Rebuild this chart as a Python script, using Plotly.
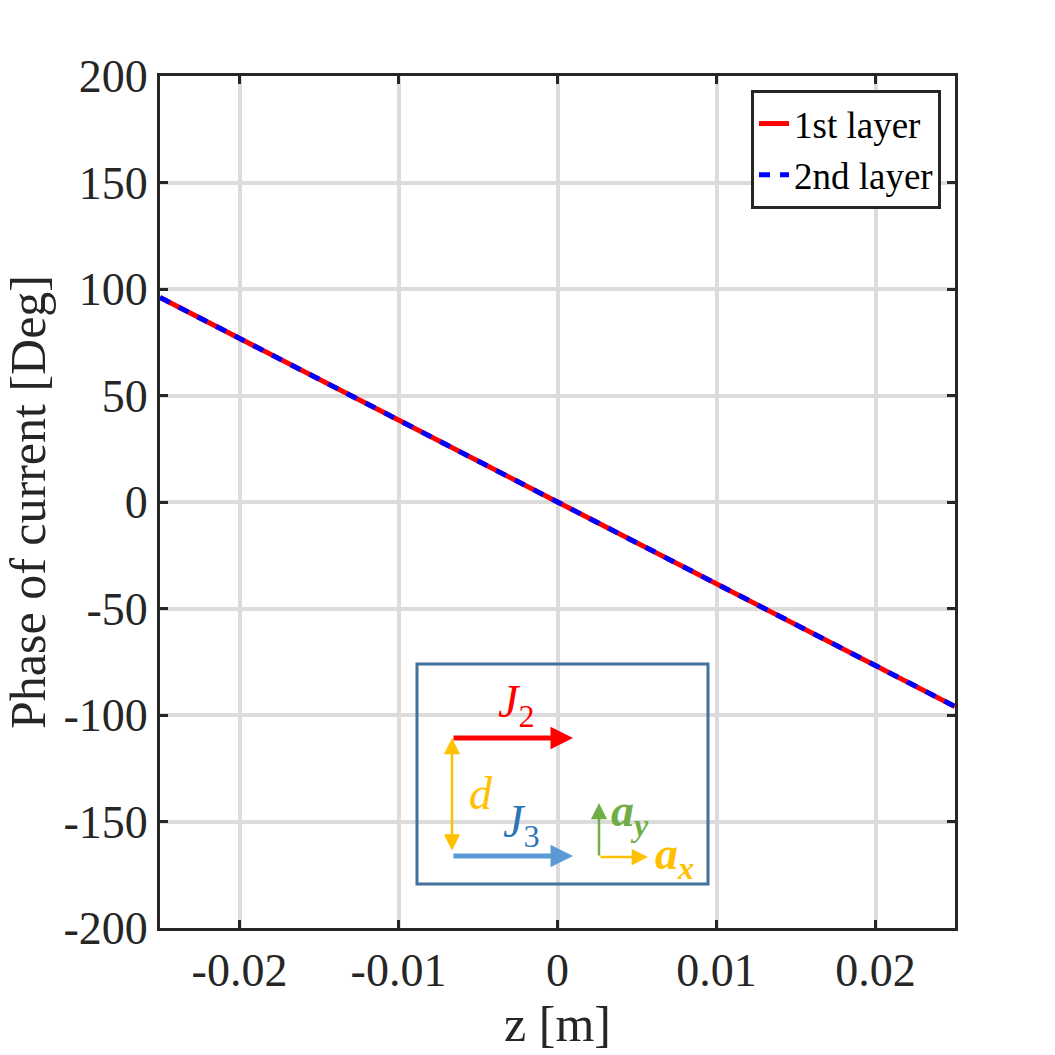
import plotly.graph_objects as go

# ---- data ----
z_vals = [-0.025, -0.02, -0.01, 0.0, 0.01, 0.02, 0.025]
phase_layer1 = [96, 77, 38.5, 0, -38.5, -77, -96]
phase_layer2 = [96, 77, 38.5, 0, -38.5, -77, -96]

x_tickvals = [-0.02, -0.01, 0, 0.01, 0.02]
x_ticktext = ["-0.02", "-0.01", "0", "0.01", "0.02"]
y_tickvals = [-200, -150, -100, -50, 0, 50, 100, 150, 200]
y_ticktext = ["-200", "-150", "-100", "-50", "0", "50", "100", "150", "200"]

W, H = 1055, 1055
L, R, T, B = 160, 100, 76, 127
PW, PH = W - L - R, H - T - B


def px(xp):
    return (xp - L) / PW


def py(yp):
    return (H - B - yp) / PH


FONT = "Liberation Serif, Times New Roman, serif"

fig = go.Figure()
fig.add_trace(go.Scatter(x=z_vals, y=phase_layer1, mode="lines", name="1st layer",
                         line=dict(color="#FF0000", width=5)))
fig.add_trace(go.Scatter(x=z_vals, y=phase_layer2, mode="lines", name="2nd layer",
                         line=dict(color="#0000FF", width=5, dash="11px,10px")))

axis_common = dict(
    showline=True, linewidth=3, linecolor="#262626", mirror="ticks",
    ticks="inside", ticklen=8, tickwidth=3, tickcolor="#262626",
    showgrid=True, gridcolor="#DCDCDC", gridwidth=4, zeroline=False,
    tickfont=dict(family=FONT, size=46, color="#262626"),
)

fig.update_xaxes(range=[-0.025, 0.025], tickvals=x_tickvals, ticktext=x_ticktext,
                 title=dict(text="z [m]", font=dict(family=FONT, size=50, color="#262626"), standoff=8),
                 **axis_common)
fig.update_yaxes(range=[-200, 200], tickvals=y_tickvals, ticktext=y_ticktext,
                 title=dict(text="Phase of current [Deg]", font=dict(family=FONT, size=50, color="#262626"), standoff=6),
                 **axis_common)

# inset box
fig.add_shape(type="rect", xref="paper", yref="paper",
              x0=px(417), x1=px(708), y0=py(884), y1=py(664),
              line=dict(color="#41719C", width=3), fillcolor="rgba(0,0,0,0)", layer="above")


def arrow(x0, y0, x1, y1, color, width, both=False, size=1.0):
    fig.add_annotation(xref="paper", yref="paper", x=px(x1), y=py(y1),
                       axref="pixel", ayref="pixel", ax=x0 - x1, ay=y0 - y1,
                       text="", showarrow=True, arrowhead=2, startarrowhead=2,
                       arrowside="end+start" if both else "end",
                       arrowsize=size, startarrowsize=size,
                       arrowwidth=width, arrowcolor=color)


def label(x, y, text, color, size=46):
    fig.add_annotation(xref="paper", yref="paper", x=px(x), y=py(y), text=text,
                       showarrow=False, font=dict(family=FONT, size=size, color=color))


arrow(452, 738, 573, 738, "#FF0000", 5, size=0.9)
arrow(452, 852, 452, 738, "#FFC000", 2.5, both=True, size=1.3)
arrow(452, 856, 573, 856, "#5B9BD5", 5, size=0.9)
arrow(599, 857, 599, 803, "#70AD47", 2.5, size=1.3)
arrow(599, 857, 648, 857, "#FFC000", 2.5, size=1.3)

label(516, 736, "<i>J</i><sub>2</sub>", "#FF0000")
label(481, 821, "<i>d</i>", "#FFC000")
label(521, 856, "<i>J</i><sub>3</sub>", "#2E75B6")
label(630, 845, "<b><i>a</i></b><sub><b><i>y</i></b></sub>", "#70AD47")
label(674, 888, "<b><i>a</i></b><sub><b><i>x</i></b></sub>", "#FFC000")

fig.update_layout(
    width=W, height=H,
    margin=dict(l=L, r=R, t=T, b=B),
    paper_bgcolor="white", plot_bgcolor="white",
    legend=dict(x=px(941), y=py(90), xanchor="right", yanchor="top",
                bgcolor="white", bordercolor="#262626", borderwidth=3,
                font=dict(family=FONT, size=37, color="#000000"),
                tracegroupgap=0, itemwidth=30),
    showlegend=True,
)

fig.write_html("out.html")
